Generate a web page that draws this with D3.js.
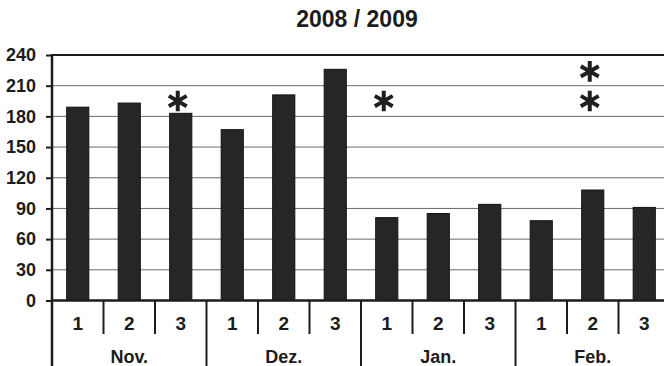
<!DOCTYPE html>
<html>
<head>
<meta charset="utf-8">
<script src="https://cdn.jsdelivr.net/npm/d3@7"></script>
<style>
  html, body { margin: 0; padding: 0; background: #fff; }
  svg { display: block; font-family: "Liberation Sans", Arial, sans-serif; }
</style>
</head>
<body>
<svg id="chart" width="664" height="366"></svg>
<script>
// Months and the three periods inside each month
const months = ["Nov.", "Dez.", "Jan.", "Feb."];
const periods = ["1", "2", "3"];
// Values per month, one entry per period
const valuesNov = [189, 193, 183];
const valuesDez = [167, 201, 226];
const valuesJan = [81, 85, 94];
const valuesFeb = [78, 108, 91];
// Asterisk markers: month, period, value height
const markMonths = ["Nov.", "Jan.", "Feb.", "Feb."];
const markPeriods = ["3", "1", "2", "2"];
const markValues = [195, 195, 195, 224];
const yTicks = [0, 30, 60, 90, 120, 150, 180, 210, 240];
const title = "2008 / 2009";

const allValues = [valuesNov, valuesDez, valuesJan, valuesFeb];
const data = [];
months.forEach((m, i) => periods.forEach((p, j) => data.push({ month: m, period: p, key: m + "|" + p, value: allValues[i][j] })));
const marks = markMonths.map((m, i) => ({ key: m + "|" + markPeriods[i], value: markValues[i] }));

const svg = d3.select("#chart");
const plotLeft = 52, plotRight = 670, plotTop = 55, plotBottom = 300.5;
const ink = "#1c1c1c";

const x = d3.scaleBand().domain(data.map(d => d.key)).range([plotLeft, plotRight]).paddingInner(0.57).paddingOuter(0.285);
const slot = d3.scaleBand().domain(data.map(d => d.key)).range([plotLeft, plotRight]);
const xm = d3.scaleBand().domain(months).range([plotLeft, plotRight]);
const y = d3.scaleLinear().domain([0, 240]).range([plotBottom, plotTop]);

// Title
svg.append("text").attr("x", 357).attr("y", 27).attr("text-anchor", "middle")
  .attr("font-size", 23).attr("font-weight", "bold").attr("fill", ink).text(title);

// Gridlines
svg.append("g").selectAll("line").data(yTicks.filter(t => t > 0 && t < 240)).join("line")
  .attr("x1", plotLeft).attr("x2", plotRight).attr("y1", d => y(d)).attr("y2", d => y(d))
  .attr("stroke", "#6a6a6a").attr("stroke-width", 1);

// Top border
svg.append("line").attr("x1", plotLeft).attr("x2", plotRight).attr("y1", y(240)).attr("y2", y(240))
  .attr("stroke", ink).attr("stroke-width", 2.2);

// Y axis
const yAxis = svg.append("g").attr("transform", `translate(${plotLeft},0)`)
  .call(d3.axisLeft(y).tickValues(yTicks).tickSize(6).tickPadding(10));
yAxis.select(".domain").remove();
yAxis.selectAll(".tick line").attr("stroke", ink).attr("stroke-width", 2);
yAxis.selectAll(".tick text").attr("font-size", 18).attr("font-weight", "bold")
  .attr("fill", ink).attr("font-family", "Liberation Sans, Arial, sans-serif");

// Bars
svg.append("g").selectAll("rect").data(data).join("rect")
  .attr("x", d => x(d.key)).attr("width", x.bandwidth())
  .attr("y", d => y(d.value)).attr("height", d => y(0) - y(d.value))
  .attr("fill", "#262626").attr("stroke", "#111").attr("stroke-width", 1);

// Asterisks
const star = d3.symbol().type(d3.symbolAsterisk).size(300);
svg.append("g").selectAll("path").data(marks).join("path")
  .attr("d", star)
  .attr("transform", d => `translate(${x(d.key) + x.bandwidth() / 2 - 3},${y(d.value)})`)
  .attr("fill", "none").attr("stroke", "#1f1f1f").attr("stroke-width", 4);

// Vertical axis line extends down through the category table
svg.append("line").attr("x1", plotLeft).attr("x2", plotLeft).attr("y1", y(240) - 1).attr("y2", 366)
  .attr("stroke", ink).attr("stroke-width", 2.5);

// X axis baseline
svg.append("line").attr("x1", plotLeft).attr("x2", plotRight).attr("y1", y(0)).attr("y2", y(0))
  .attr("stroke", ink).attr("stroke-width", 2.5);

// Period separators (short) and month separators (long)
const inner = data.filter(d => d.period !== "1");
svg.append("g").selectAll("line").data(inner).join("line")
  .attr("x1", d => slot(d.key)).attr("x2", d => slot(d.key))
  .attr("y1", y(0)).attr("y2", 334)
  .attr("stroke", ink).attr("stroke-width", 2);
svg.append("g").selectAll("line").data(months.slice(1)).join("line")
  .attr("x1", d => xm(d)).attr("x2", d => xm(d))
  .attr("y1", y(0)).attr("y2", 366)
  .attr("stroke", ink).attr("stroke-width", 2);

// Period labels
svg.append("g").selectAll("text").data(data).join("text")
  .attr("x", d => slot(d.key) + slot.bandwidth() / 2).attr("y", 330)
  .attr("text-anchor", "middle").attr("font-size", 19).attr("font-weight", "bold")
  .attr("fill", ink).text(d => d.period);

// Month labels
svg.append("g").selectAll("text").data(months).join("text")
  .attr("x", d => xm(d) + xm.bandwidth() / 2).attr("y", 363)
  .attr("text-anchor", "middle").attr("font-size", 18).attr("font-weight", "bold")
  .attr("fill", ink).text(d => d);
</script>
</body>
</html>
